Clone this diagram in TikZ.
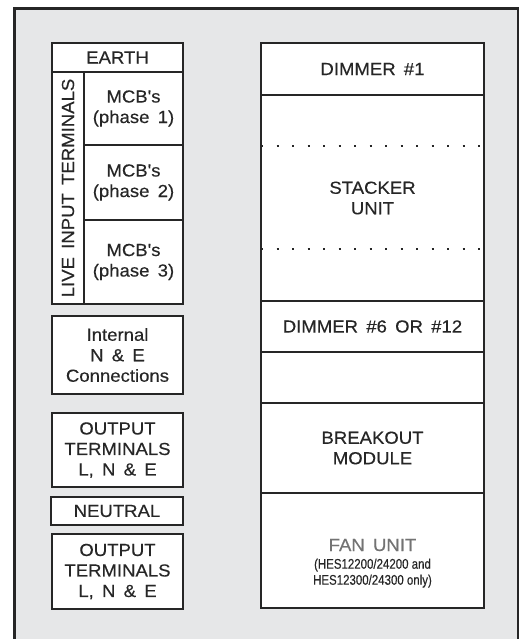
\documentclass[tikz,border=0pt]{standalone}
\usepackage{fontspec}
\setmainfont{Liberation Sans}
\newfontfamily\widesans[FakeStretch=1.06,FakeBold=0.3,WordSpace=1.6]{Liberation Sans}
\newfontfamily\narrowsans[FakeStretch=0.82,FakeBold=0.2]{Liberation Sans}
\usetikzlibrary{positioning,calc}
\definecolor{panelgrey}{HTML}{E6E7E8}
\definecolor{inkgrey}{HTML}{262626}

\begin{document}
\begin{tikzpicture}[x=1pt,y=-1pt,
	slot/.style 2 args={draw=inkgrey,fill=white,line width=1.2pt,outer sep=0pt,inner sep=0pt,
		minimum width=#1,minimum height=#2,align=center,text=inkgrey,
		font=\widesans\fontsize{17.5}{20.5}\selectfont},
	tag/.style={inner sep=0pt,align=center,text=inkgrey,font=\widesans\fontsize{17.5}{20.5}\selectfont},
	dotrow/.style={draw=inkgrey,line width=2.2pt,dash pattern=on 2.2pt off 13.3pt}]
		\useasboundingbox (0,0) rectangle (528,639);
		\draw[fill=panelgrey,draw=inkgrey,line width=2.6pt] (14.5,8.5) rectangle (518,660);
		\node[slot={131}{29},anchor=north west] (earth) at (52,43) {EARTH};
		\node[slot={32}{232},anchor=north west] (live) at (earth.south west) {};
		\node[tag,rotate=90] (livetext) at (live.center) {LIVE INPUT TERMINALS};
		\node[slot={99}{73},anchor=north west] (mcb1) at (live.north east) {MCB's\\(phase 1)};
		\node[slot={99}{75},below=0pt of mcb1] (mcb2) {MCB's\\(phase 2)};
		\node[slot={99}{84},below=0pt of mcb2] (mcb3) {MCB's\\(phase 3)};
		\node[slot={131}{78},anchor=north west] (internal) at (52,316) {Internal\\N \& E\\Connections};
		\node[slot={131}{74},anchor=north west] (out1) at (52,413) {OUTPUT\\TERMINALS\\L, N \& E};
		\node[slot={132}{28},anchor=north west] (neutral) at (51,497) {NEUTRAL};
		\node[slot={131}{75},anchor=north west] (out2) at (52,534) {OUTPUT\\TERMINALS\\L, N \& E};
		\node[slot={223}{52},anchor=north west] (dim1) at (261,43) {DIMMER \#1};
		\node[slot={223}{206},below=0pt of dim1] (stack) {STACKER\\UNIT};
		\node[slot={223}{51},below=0pt of stack] (dimlast) {DIMMER \#6 OR \#12};
		\node[slot={223}{51},below=0pt of dimlast] (spare) {};
		\node[slot={223}{90},below=0pt of spare] (breakout) {BREAKOUT\\MODULE};
		\node[slot={223}{115},below=0pt of breakout] (fan) {};
		\node[tag,text=black!55,font=\widesans\fontsize{17.5}{20.5}\selectfont,anchor=base] (fantitle) at ($(fan.north)+(0,58)$) {FAN UNIT};
		\node[tag,font=\narrowsans\fontsize{14}{16}\selectfont,below=7pt of fantitle] (fannote) {(HES12200/24200 and\\HES12300/24300 only)};
		\draw[dotrow] ($(stack.north west)+(0,51)$) -- ($(stack.north east)+(0,51)$);
		\draw[dotrow] ($(stack.south west)+(0,-52)$) -- ($(stack.south east)+(0,-52)$);
\end{tikzpicture}
\end{document}
